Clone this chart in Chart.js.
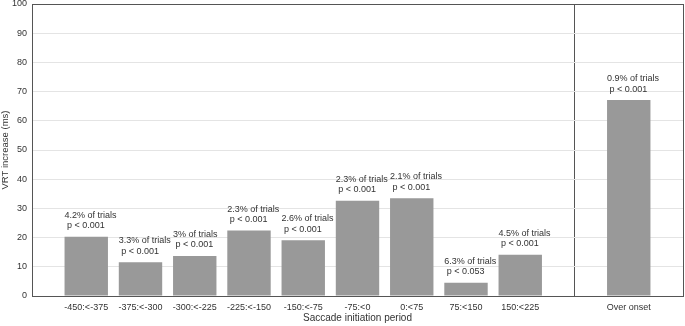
<!DOCTYPE html>
<html>
<head>
<meta charset="utf-8">
<script src="https://cdn.jsdelivr.net/npm/chart.js@4/dist/chart.umd.min.js"></script>
<style>
    html, body { margin: 0; padding: 0; background: #fff; }
    #wrap { width: 685px; height: 326px; }
</style>
</head>
<body>
<div id="wrap"><canvas id="chart" width="685" height="326"></canvas></div>
<script>
// blank slots: 0 = left pad, 10 = separator, 12 = right edge
const periods = ["", "-450:<-375", "-375:<-300", "-300:<-225", "-225:<-150", "-150:<-75",
    "-75:<0", "0:<75", "75:<150", "150:<225", "", "Over onset", ""];
const vrtIncrease = [null, 20.3, 11.6, 13.7, 22.4, 19.1, 32.6, 33.5, 4.5, 14.1, null, 67.1, null];
const trialPct = ["", "4.2% of trials", "3.3% of trials", "3% of trials", "2.3% of trials", "2.6% of trials",
    "2.3% of trials", "2.1% of trials", "6.3% of trials", "4.5% of trials", "", "0.9% of trials", ""];
const pValues = ["", "p < 0.001", "p < 0.001", "p < 0.001", "p < 0.001", "p < 0.001",
    "p < 0.001", "p < 0.001", "p < 0.053", "p < 0.001", "", "p < 0.001", ""];

const FONT = "'Liberation Sans', Arial, sans-serif";
const FRAME = "#555555";

// two-line note above every bar, left-aligned to the bar edge
const barNotes = {
    id: "barNotes",
    afterDatasetsDraw(chart) {
        const ctx = chart.ctx;
        const meta = chart.getDatasetMeta(0);
        ctx.save();
        ctx.font = "9px " + FONT;
        ctx.fillStyle = "#333";
        ctx.textAlign = "left";
        ctx.textBaseline = "middle";
        meta.data.forEach((bar, i) => {
            if (vrtIncrease[i] == null) return;
            const left = bar.x - bar.width / 2;
            ctx.fillText(trialPct[i], left, bar.y - 21.5);
            ctx.fillText(" " + pValues[i], left, bar.y - 11);
        });
        ctx.restore();
    },
};

const ctx = document.getElementById("chart").getContext("2d");

new Chart(ctx, {
    type: "bar",
    data: {
        labels: periods,
        datasets: [
            {
                label: "VRT increase",
                data: vrtIncrease,
                backgroundColor: "#999999",
                borderWidth: 0,
                categoryPercentage: 0.8,
                barPercentage: 1.0,
            },
        ],
    },
    options: {
        responsive: false,
        animation: false,
        layout: { padding: { top: 4, right: 2, left: 0, bottom: 0 } },
        plugins: {
            legend: { display: false },
            tooltip: { enabled: false },
        },
        scales: {
            x: {
                offset: false,
                grid: {
                    offset: false,
                    drawTicks: false,
                    color: (c) => (c.index === 10 || c.index === 12 ? FRAME : "rgba(0,0,0,0)"),
                    lineWidth: 1,
                },
                border: { color: FRAME },
                ticks: {
                    autoSkip: false,
                    maxRotation: 0,
                    padding: 6,
                    color: "#333",
                    font: { family: FONT, size: 9 },
                },
                title: {
                    display: true,
                    text: "Saccade initiation period",
                    color: "#333",
                    font: { family: FONT, size: 10 },
                    padding: { top: 0, bottom: 2 },
                },
                afterFit(scale) {
                    scale.height = 30;
                    scale.paddingLeft = 0;
                    scale.paddingRight = 0;
                },
            },
            y: {
                min: 0,
                max: 100,
                ticks: {
                    stepSize: 10,
                    padding: 5,
                    color: "#333",
                    font: { family: FONT, size: 9 },
                },
                grid: {
                    drawTicks: false,
                    color: (c) => (c.tick.value === 100 ? FRAME : "#e4e4e4"),
                },
                border: { color: FRAME },
                title: {
                    display: true,
                    text: "VRT increase (ms)",
                    color: "#333",
                    font: { family: FONT, size: 9.5 },
                    padding: { top: 0, bottom: 0 },
                },
                afterFit(scale) {
                    scale.width = 32;
                    scale.paddingTop = 0;
                    scale.paddingBottom = 0;
                },
            },
        },
    },
    plugins: [barNotes],
});
</script>
</body>
</html>
